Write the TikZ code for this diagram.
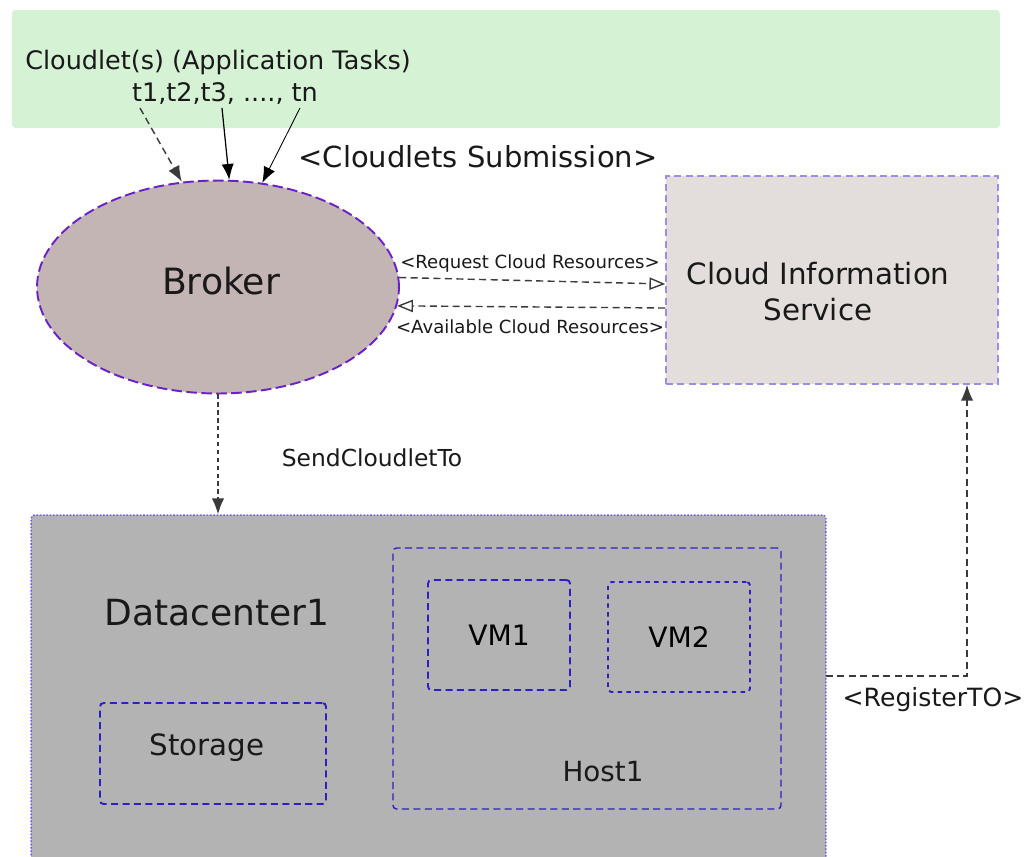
\documentclass[tikz,border=0pt]{standalone}
\usepackage{fontspec}
\setmainfont{DejaVu Sans}
\usetikzlibrary{arrows.meta,calc,shapes.geometric}
\definecolor{taskgreen}{HTML}{D5F2D5}
\definecolor{brokerfill}{HTML}{C4B5B5}
\definecolor{brokerline}{HTML}{6A22C8}
\definecolor{cisfill}{HTML}{E3DEDB}
\definecolor{cisline}{HTML}{9A8FE8}
\definecolor{dcfill}{HTML}{B3B3B3}
\definecolor{dcline}{HTML}{6F62E0}
\definecolor{boxline}{HTML}{2E1FC2}
\definecolor{linkgray}{HTML}{3A3A3A}
\begin{document}
\begin{tikzpicture}[x=0.02cm, y=-0.02cm,
  lbl/.style={inner sep=0pt, text=black!90},
  tip/.style={-{Latex[length=9pt,width=7pt]}},
  link/.style={linkgray, line width=0.8pt, dash pattern=on 4pt off 2.5pt},
  solidlink/.style={black, line width=0.7pt, tip},
  openlink/.style={link, -{Triangle[open,length=9pt,width=7pt]}},
  unit/.style={draw=boxline, line width=1.1pt, dash pattern=on 4pt off 2.5pt, rounded corners=2pt, inner sep=0pt}]
 \useasboundingbox (0,0) rectangle (1033,856);
 % task pool at the top
 \node[fill=taskgreen, rounded corners=2pt, minimum width=19.76cm, minimum height=2.36cm, inner sep=0pt] (tasks) at (506,69) {};
 \node[lbl, font=\fontsize{14.5}{17}\selectfont] (title) at (218,62) {Cloudlet(s) (Application Tasks)};
 \node[lbl, font=\fontsize{14.5}{17}\selectfont] (ids) at (225,94) {t1,t2,t3, ...., tn};
 \coordinate (tone) at (140,108);
 \coordinate (tthree) at (222,108);
 \coordinate (tlast) at (300,108);
 \node[lbl, font=\fontsize{16.5}{19}\selectfont] (submit) at (478,157) {<Cloudlets Submission>};
 % broker
 \node[ellipse, fill=brokerfill, draw=brokerline, line width=1.1pt, dash pattern=on 6pt off 2.5pt,
   minimum width=7.24cm, minimum height=4.26cm, inner sep=0pt] (broker) at (218,287) {};
 \node[lbl, font=\fontsize{20.6}{24}\selectfont] (brokername) at (221,281) {Broker};
 \draw[link, tip] (tone) -- (broker.109);
 \draw[solidlink] (tthree) -- (broker.84);
 \draw[solidlink, line width=0.5pt] (tlast) -- (broker.67);
 % information service
 \node[fill=cisfill, draw=cisline, line width=0.9pt, dash pattern=on 4pt off 2.5pt, minimum width=6.64cm, minimum height=4.16cm, inner sep=0pt] (cis) at (832,280) {};
 \node[lbl, align=center, font=\fontsize{16.7}{20.5}\selectfont] (cisname) at (818,292) {Cloud Information\\Service};
 \draw[openlink] (broker.3) -- ($(cis.west)+(0,4)$);
 \draw[openlink] ($(cis.west)+(0,28)$) -- (broker.-6);
 \node[lbl, font=\fontsize{10.3}{12}\selectfont] (req) at (530,263) {<Request Cloud Resources>};
 \node[lbl, font=\fontsize{10.3}{12}\selectfont] (avail) at (530,327) {<Available Cloud Resources>};
 % datacenter with its parts
 \node[fill=dcfill, draw=dcline, line width=0.9pt, densely dotted, rounded corners=2pt, minimum width=15.9cm, minimum height=7.1cm, inner sep=0pt] (dc) at (428.5,692.5) {};
 \node[lbl, font=\fontsize{20.5}{24}\selectfont] (dcname) at (217,613) {Datacenter1};
 \node[unit, line width=0.8pt, minimum width=7.76cm, minimum height=5.22cm] (host) at (587,678.5) {};
 \node[lbl, font=\fontsize{15.8}{19}\selectfont] (hostname) at (603,772) {Host1};
 \node[unit, minimum width=2.84cm, minimum height=2.2cm, font=\fontsize{16}{19}\selectfont] (vmone) at (499,635) {VM1};
 \node[unit, dash pattern=on 2.5pt off 2.5pt, minimum width=2.84cm, minimum height=2.2cm, font=\fontsize{16}{19}\selectfont] (vmtwo) at (679,637) {VM2};
 \node[unit, minimum width=4.52cm, minimum height=2.02cm] (storage) at (213,753.5) {};
 \node[lbl, font=\fontsize{16.7}{20}\selectfont] (storagename) at (207,748) {Storage};
 % sending and registration
 \draw[link, dash pattern=on 2.5pt off 2pt, tip] (broker.south) -- (broker.south |- dc.north);
 \node[lbl, font=\fontsize{13.3}{16}\selectfont] (send) at (372,458) {SendCloudletTo};
 \coordinate (regout) at (826,676);
 \coordinate (regup) at (967,676);
 \draw[link, tip] (regout) -- (regup) -- (regup |- cis.south);
 \node[lbl, font=\fontsize{14.3}{17}\selectfont] (regto) at (933,700) {<RegisterTO>};
\end{tikzpicture}
\end{document}
